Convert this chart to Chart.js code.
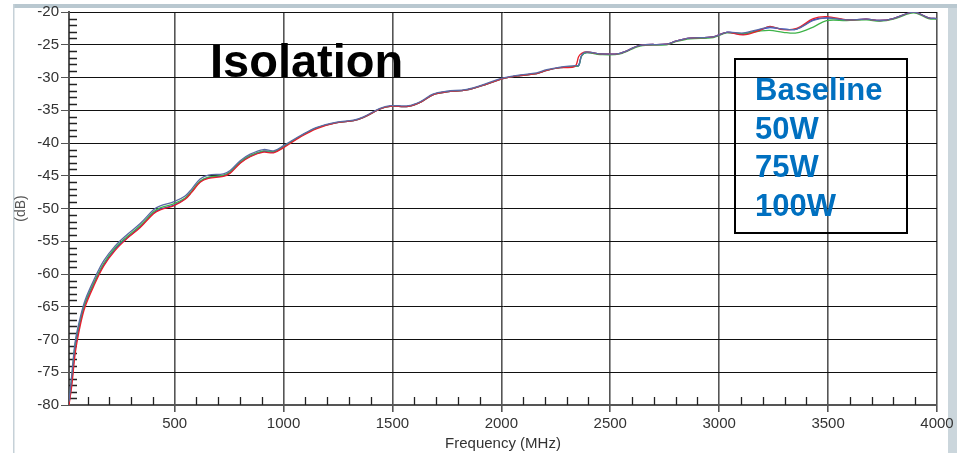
<!DOCTYPE html>
<html>
<head>
<meta charset="utf-8">
<script src="https://cdn.jsdelivr.net/npm/chart.js@4.4.1/dist/chart.umd.min.js"></script>
<style>
  html, body { margin: 0; padding: 0; background: #fff; }
  #wrap { width: 957px; height: 453px; position: relative; }
</style>
</head>
<body>
<div id="wrap"><canvas id="isoChart"></canvas></div>
<script>
// frequencies (MHz) shared by all traces
const freqs = [15, 28, 44, 67, 89, 128, 174, 227, 281, 342, 403, 434, 495, 548, 579, 617, 655, 724, 755, 801,
  847, 908, 954, 1000, 1076, 1153, 1245, 1321, 1367, 1443, 1489, 1573, 1627, 1688, 1749, 1841, 1933, 2002, 2086, 2162,
  2208, 2270, 2338, 2355, 2369, 2392, 2453, 2545, 2637, 2759, 2805, 2866, 2973, 3034, 3111, 3187, 3233, 3294, 3356, 3432,
  3493, 3585, 3677, 3738, 3799, 3876, 3907, 3961, 4000];

const baseline = [-79.5, -75.3, -70.2, -66.6, -64.0, -61.0, -58.0, -55.7, -54.0, -52.3, -50.2, -49.6, -49.0, -48.1, -47.0, -45.5, -44.9, -44.7, -44.2, -42.7,
  -41.7, -41.0, -41.2, -40.4, -38.9, -37.6, -36.8, -36.5, -36.0, -34.7, -34.3, -34.3, -33.7, -32.5, -32.1, -31.8, -30.9, -30.1, -29.6, -29.3,
  -28.8, -28.4, -28.2, -28.1, -26.6, -26.1, -26.4, -26.3, -25.1, -24.9, -24.4, -24.0, -23.8, -23.1, -23.2, -22.6, -22.3, -22.6, -22.6, -21.3,
  -20.9, -21.2, -21.1, -21.3, -21.0, -20.1, -20.1, -20.9, -21.0];

const w50 = [-80.0, -77.0, -72.0, -67.8, -65.0, -61.9, -58.8, -56.4, -54.6, -52.9, -50.8, -50.2, -49.6, -48.6, -47.5, -46.0, -45.4, -45.1, -44.6, -43.1,
  -42.1, -41.4, -41.5, -40.7, -39.1, -37.8, -36.9, -36.6, -36.1, -34.8, -34.4, -34.4, -33.8, -32.6, -32.2, -31.9, -31.0, -30.2, -29.7, -29.4,
  -28.9, -28.5, -28.3, -26.8, -26.3, -26.1, -26.4, -26.3, -25.1, -24.9, -24.4, -24.0, -23.8, -23.1, -23.5, -22.8, -22.2, -22.7, -22.5, -21.0,
  -20.7, -21.2, -21.1, -21.3, -21.0, -20.1, -20.1, -20.9, -21.0];

const w75 = [-79.6, -75.8, -70.6, -67.0, -64.4, -61.4, -58.4, -56.0, -54.3, -52.6, -50.5, -49.9, -49.3, -48.4, -47.3, -45.8, -45.2, -44.9, -44.4, -42.9,
  -41.9, -41.2, -41.3, -40.5, -39.0, -37.7, -36.9, -36.6, -36.1, -34.8, -34.4, -34.4, -33.8, -32.6, -32.2, -31.9, -31.0, -30.2, -29.7, -29.4,
  -28.9, -28.5, -28.3, -28.2, -26.7, -26.2, -26.5, -26.4, -25.2, -25.0, -24.5, -24.1, -23.9, -23.2, -23.3, -22.9, -22.8, -23.1, -23.2, -22.3,
  -21.3, -21.3, -21.2, -21.4, -21.1, -20.2, -20.2, -21.0, -21.1];

const w100 = [-79.8, -76.3, -71.2, -67.3, -64.6, -61.6, -58.6, -56.2, -54.5, -52.8, -50.7, -50.1, -49.5, -48.5, -47.4, -45.9, -45.3, -45.0, -44.5, -43.0,
  -42.0, -41.3, -41.4, -40.6, -39.0, -37.7, -36.9, -36.6, -36.1, -34.8, -34.4, -34.4, -33.8, -32.6, -32.2, -31.9, -31.0, -30.2, -29.7, -29.4,
  -28.9, -28.5, -28.3, -28.2, -26.6, -26.2, -26.4, -26.3, -25.1, -24.9, -24.4, -24.0, -23.8, -23.1, -23.4, -22.7, -22.4, -22.6, -22.6, -21.2,
  -20.9, -21.2, -21.1, -21.3, -21.0, -20.1, -20.1, -20.9, -21.0];

const seriesNames = ['Baseline', '50W', '75W', '100W'];
const seriesColors = ['#5a6aa4', '#e8202a', '#3fb34a', '#1f35e8'];
const xTicks = [500, 1000, 1500, 2000, 2500, 3000, 3500, 4000];
const chartTitle = 'Isolation';

const toPoints = vals => freqs.map((f, i) => ({ x: f, y: vals[i] }));

// frame, minor ticks, title and text legend box
const decorPlugin = {
    id: 'decor',
    beforeDraw(chart) {
        const ctx = chart.ctx;
        ctx.save();
        ctx.fillStyle = '#fff';
        ctx.fillRect(0, 0, chart.width, chart.height);
        ctx.fillStyle = '#b9c8d0';
        ctx.fillRect(13, 4, 944, 4);
        ctx.fillStyle = '#c6d1d8';
        ctx.fillRect(13, 4, 1.5, 449);
        ctx.fillStyle = '#cbd6dc';
        ctx.fillRect(948, 8, 9, 445);
        ctx.restore();
    },
    beforeDatasetsDraw(chart) {
        const ctx = chart.ctx;
        const xs = chart.scales.x, ys = chart.scales.y;
        const area = chart.chartArea;
        ctx.save();
        ctx.strokeStyle = '#222';
        ctx.lineWidth = 1.3;
        ctx.beginPath();
        for (let f = 100; f < 4000; f += 100) {
            if (f % 500 === 0) continue;
            const px = Math.round(xs.getPixelForValue(f)) + 0.5;
            ctx.moveTo(px, area.bottom);
            ctx.lineTo(px, area.bottom - 8);
        }
        for (let v = -79; v < -20; v += 1) {
            if (v % 5 === 0) continue;
            const py = Math.round(ys.getPixelForValue(v)) + 0.5;
            ctx.moveTo(area.left, py);
            ctx.lineTo(area.left + 8, py);
        }
        ctx.stroke();
        ctx.restore();
    },
    afterDatasetsDraw(chart) {
        const ctx = chart.ctx;
        ctx.save();
        ctx.fillStyle = '#000';
        ctx.font = 'bold 47px "Liberation Sans", Arial, sans-serif';
        ctx.textBaseline = 'alphabetic';
        ctx.fillText(chartTitle, 210, 77);

        ctx.strokeStyle = '#000';
        ctx.lineWidth = 2;
        ctx.strokeRect(735, 59, 172, 174);
        ctx.fillStyle = '#0070c0';
        ctx.font = 'bold 31px "Liberation Sans", Arial, sans-serif';
        seriesNames.forEach((name, i) => {
            ctx.fillText(name, 755, 100 + i * 38.5);
        });
        ctx.restore();
    }
};

const ctx = document.getElementById('isoChart').getContext('2d');
const isoChart = new Chart(ctx, {
    type: 'line',
    data: {
        datasets: [baseline, w50, w75, w100].map((vals, i) => ({
            label: seriesNames[i],
            data: toPoints(vals),
            borderColor: seriesColors[i],
            borderWidth: 1.3,
            pointRadius: 0,
            fill: false,
            tension: 0.35
        }))
    },
    options: {
        responsive: true,
        maintainAspectRatio: false,
        animation: false,
        layout: { padding: { left: 0, right: 20, top: 12, bottom: 0 } },
        plugins: {
            legend: { display: false },
            tooltip: { enabled: false }
        },
        scales: {
            x: {
                type: 'linear',
                min: 15,
                max: 4000,
                afterBuildTicks: scale => { scale.ticks = xTicks.map(v => ({ value: v })); },
                afterFit: scale => { scale.height = 48; },
                ticks: {
                    color: '#333',
                    font: { family: '"Liberation Sans", Arial, sans-serif', size: 15 },
                    padding: 3,
                    maxRotation: 0,
                    autoSkip: false,
                    callback: v => String(v)
                },
                grid: { color: '#555', lineWidth: 1.6, tickLength: 7, tickColor: '#555' },
                border: { color: '#555', width: 2 },
                title: {
                    display: true,
                    text: 'Frequency (MHz)',
                    color: '#333',
                    font: { family: '"Liberation Sans", Arial, sans-serif', size: 15 },
                    padding: { top: 0, bottom: 0 }
                }
            },
            y: {
                min: -80,
                max: -20,
                afterFit: scale => { scale.width = 69; },
                ticks: {
                    stepSize: 5,
                    color: '#333',
                    font: { family: '"Liberation Sans", Arial, sans-serif', size: 15 },
                    padding: 2
                },
                grid: { color: '#111', lineWidth: 1, tickLength: 8, tickColor: '#555' },
                border: { color: '#555', width: 2 },
                title: {
                    display: true,
                    text: '(dB)',
                    color: '#555',
                    font: { family: '"Liberation Sans", Arial, sans-serif', size: 14 },
                    padding: { top: 13, bottom: 0 }
                }
            }
        }
    },
    plugins: [decorPlugin]
});
</script>
</body>
</html>
